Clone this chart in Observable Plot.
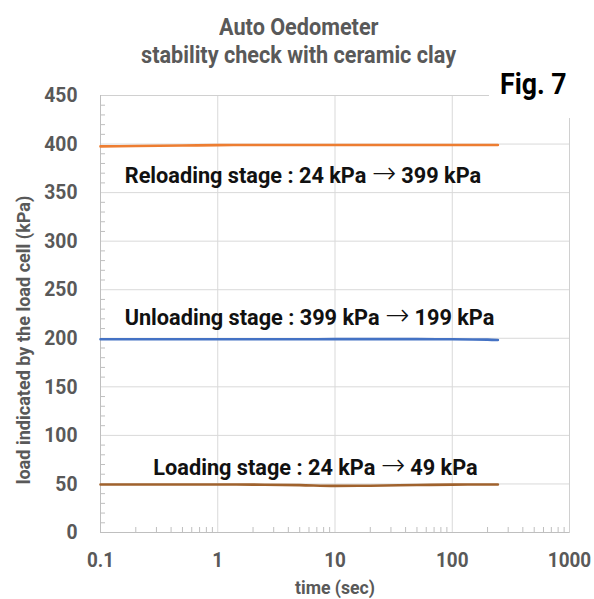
<!DOCTYPE html>
<html>
<head>
<meta charset="utf-8">
<script src="https://cdn.jsdelivr.net/npm/d3@7"></script>
<script src="https://cdn.jsdelivr.net/npm/@observablehq/plot@0.6"></script>
<style>
  html, body { margin: 0; padding: 0; background: #fff; }
  #chart { position: relative; width: 594px; height: 599px; font-family: Roboto, "Liberation Sans", sans-serif; }
  #chart svg { position: absolute; left: 0; top: 0; }
  .cond { position: absolute; white-space: nowrap; font-weight: bold; }
  .cond span { display: inline-block; transform-origin: 50% 50%; }
  #title1, #title2 { left: 0; width: 598px; text-align: center; color: #595959; font-size: 23px; }
  #title1 { top: 14px; }
  #title2 { top: 42px; }
  #title1 span, #title2 span { transform: scaleX(0.94); }
  #fig { left: 489px; top: 0; width: 105px; height: 118px; background: #fff; }
  #fig span { position: absolute; left: 11px; top: 66px; font-size: 30px; color: #000; transform: scaleX(0.89); transform-origin: 0 50%; }
  #ylab { left: 23px; top: 340px; width: 0; height: 0; color: #595959; font-size: 19px; }
  #ylab span { position: absolute; transform: translate(-50%, -50%) rotate(-90deg) scaleX(0.95); transform-origin: 50% 50%; }
</style>
</head>
<body>
<div id="chart">
  <div class="cond" id="title1"><span>Auto Oedometer</span></div>
  <div class="cond" id="title2"><span>stability check with ceramic clay</span></div>
  <div class="cond" id="ylab"><span>load indicated by the load cell (kPa)</span></div>
</div>
<script>
// Elapsed time after each load step (sec)
const times = [0.1, 0.2, 0.5, 1, 2, 5, 10, 20, 50, 100, 200, 245];

// Load cell readings (kPa) for the three stages
const reloading = [397.6, 398.0, 398.5, 398.9, 399, 399, 399, 399, 399, 399, 399, 399];
const unloading = [199, 199, 199, 199, 199, 199, 199.1, 199.1, 199.1, 199, 198.6, 198.2];
const loading   = [49.5, 49.5, 49.5, 49.4, 49.3, 48.8, 48.0, 48.2, 48.9, 49.3, 49.4, 49.4];

// Stage annotations: name, start load, target load, and where the note sits
const stageNames = ["Reloading", "Unloading", "Loading"];
const stageFrom = [24, 399, 24];
const stageTo = [399, 199, 49];
const stageLabelTime = [5.33, 6.06, 6.82];
const stageLabelLoad = [367.6, 221.4, 66.9];

// Axis ticks
const xTicks = [0.1, 1, 10, 100, 1000];
const yTicks = [0, 50, 100, 150, 200, 250, 300, 350, 400, 450];

const seriesColors = ["#ED7D31", "#4472C4", "#A0622D"];

const series = [reloading, unloading, loading];
const rows = series.flatMap((vals, i) =>
  vals.map((v, j) => ({stage: stageNames[i], t: times[j], load: v}))
);

const ARROW = "\u2192";
const labels = stageNames.map((name, i) => ({
  t: stageLabelTime[i],
  load: stageLabelLoad[i],
  text: `${name} stage : ${stageFrom[i]} kPa ${ARROW} ${stageTo[i]} kPa`
}));

// minor ticks: 2..9 within each decade, and every 10 kPa between majors
const minorX = d3.range(-1, 3).flatMap(e => d3.range(2, 10).map(m => m * 10 ** e));
const minorY = d3.range(0, 451, 10).filter(v => v % 50 !== 0);

const W = 594, H = 599;
const mL = 100, mR = 25, mT = 95, mB = 67;
const plotW = W - mL - mR, plotH = H - mT - mB;

const chart = Plot.plot({
  width: W,
  height: H,
  marginLeft: mL,
  marginRight: mR,
  marginTop: mT,
  marginBottom: mB,
  style: {fontFamily: "Roboto, 'Liberation Sans', sans-serif", background: "transparent"},
  x: {type: "log", domain: [0.1, 1000]},
  y: {domain: [0, 450]},
  color: {domain: stageNames, range: seriesColors},
  marks: [
    Plot.gridX(xTicks, {stroke: "#d9d9d9", strokeOpacity: 1, strokeWidth: 1}),
    Plot.gridY(yTicks, {stroke: "#d9d9d9", strokeOpacity: 1, strokeWidth: 1}),
    Plot.ruleX(minorX, {x: d => d, insetTop: plotH - 5, stroke: "#bfbfbf"}),
    Plot.ruleY(minorY, {y: d => d, insetRight: plotW - 5, stroke: "#bfbfbf"}),
    Plot.frame({stroke: "#d0d0d0"}),
    Plot.ruleX([0.1], {stroke: "#bfbfbf"}),
    Plot.ruleY([0], {stroke: "#bfbfbf"}),
    Plot.axisX(xTicks, {
      tickSize: 0, tickPadding: 20, tickFormat: d => String(d),
      fontSize: 21, fontWeight: "bold", fill: "#595959",
      label: "time (sec)", labelAnchor: "center", labelArrow: "none", labelOffset: 61
    }),
    Plot.axisY(yTicks, {
      tickSize: 0, tickPadding: 23,
      fontSize: 21, fontWeight: "bold", fill: "#595959",
      label: null
    }),
    Plot.line(rows, {x: "t", y: "load", z: "stage", stroke: "stage", strokeWidth: 2.6, curve: "monotone-x"}),
    Plot.text(labels, {x: "t", y: "load", text: "text", fontSize: 22.5, fontWeight: "bold", fill: "#111"})
  ]
});

const root = document.getElementById("chart");
root.insertBefore(chart, root.firstChild);

const fig = document.createElement("div");
fig.className = "cond";
fig.id = "fig";
fig.innerHTML = "<span>Fig. 7</span>";
root.appendChild(fig);

// draw the arrow in the stage notes with a long, thin arrow glyph
const SVGNS = "http://www.w3.org/2000/svg";
chart.querySelectorAll("[aria-label='text'] text").forEach(t => {
  const parts = t.textContent.split(ARROW);
  if (parts.length !== 2) return;
  t.textContent = "";
  const a = document.createElementNS(SVGNS, "tspan");
  a.textContent = parts[0];
  const arrow = document.createElementNS(SVGNS, "tspan");
  arrow.textContent = ARROW;
  arrow.setAttribute("font-family", "'DejaVu Sans', sans-serif");
  arrow.setAttribute("font-weight", "200");
  arrow.setAttribute("font-size", 30);
  const b = document.createElementNS(SVGNS, "tspan");
  b.textContent = parts[1];
  t.append(a, arrow, b);
});

// narrow the glyphs horizontally (about each text's anchor) for a condensed look
function condense(sel, k, size) {
  chart.querySelectorAll(sel).forEach(t => {
    if (size) t.setAttribute("font-size", size);
    const x = +t.getAttribute("x") || 0, y = +t.getAttribute("y") || 0;
    const prev = t.getAttribute("transform") || "";
    t.setAttribute("transform", `${prev} translate(${x},${y}) scale(${k},1) translate(${-x},${-y})`.trim());
  });
}
condense("[aria-label='x-axis tick label'] text", 0.9);
condense("[aria-label='y-axis tick label'] text", 0.92);
condense("[aria-label='x-axis label'] text", 0.93, 19);
condense("[aria-label='text'] text", 0.965);
</script>
</body>
</html>
